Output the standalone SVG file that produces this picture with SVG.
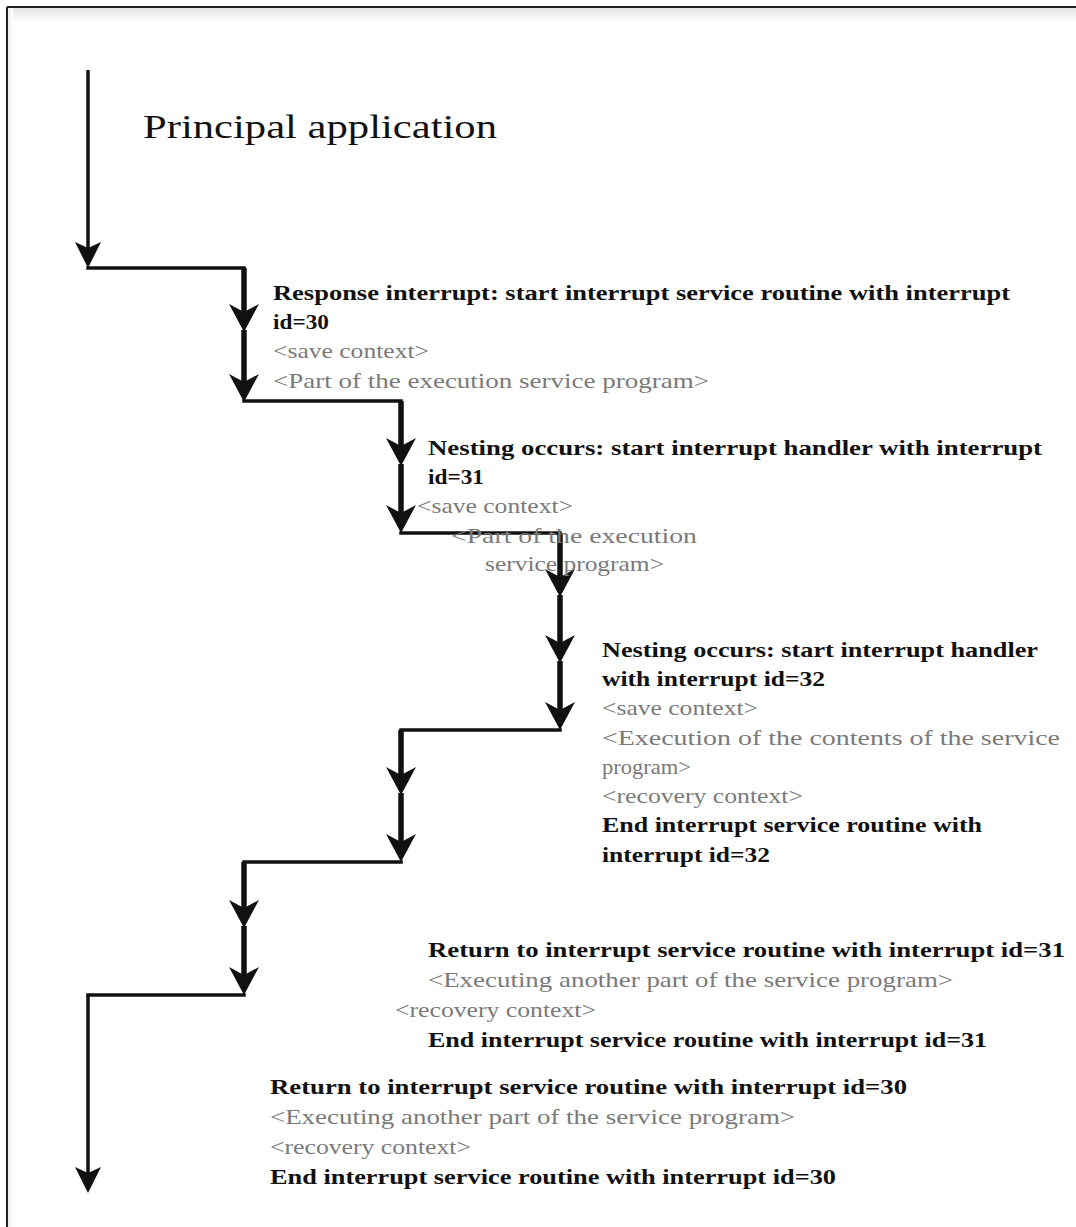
<svg xmlns="http://www.w3.org/2000/svg" xmlns:xlink="http://www.w3.org/1999/xlink" width="1076" height="1227" viewBox="0 0 1076 1227">
  <style>
    .t { font-family: "Liberation Serif", "DejaVu Serif", serif; }
    .title { font-size: 34px; fill: #111; }
    .b { font-size: 22px; font-weight: bold; fill: #111; }
    .g { font-size: 22px; fill: #7a7a7a; }
    .thin { stroke: #111; stroke-width: 3.5; fill: none; }
    .thick { stroke: #111; stroke-width: 5.5; fill: none; }
    .hz { stroke: #111; stroke-width: 3.5; fill: none; stroke-linecap: square; }
  </style>
  <defs>
    <linearGradient id="topShade" x1="0" y1="0" x2="0" y2="1">
      <stop offset="0" stop-color="#e4e4e4"/>
      <stop offset="1" stop-color="#ffffff"/>
    </linearGradient>
    <linearGradient id="leftShade" x1="0" y1="0" x2="1" y2="0">
      <stop offset="0" stop-color="#ececec"/>
      <stop offset="1" stop-color="#ffffff"/>
    </linearGradient>
    <!-- arrowheads, tip at origin, pointing down -->
    <path id="headThin" d="M0,0 L-13,-26 L0,-20 L13,-26 Z" fill="#111"/>
    <path id="headThick" d="M0,0 L-15,-28 L0,-20 L15,-28 Z" fill="#111"/>
  </defs>

  <rect width="1076" height="1227" fill="#fff"/>

  <!-- frame: top and left rule with soft shadow -->
  <g id="frame">
    <rect x="8" y="8" width="1068" height="14" fill="url(#topShade)"/>
    <rect x="8" y="8" width="5" height="1219" fill="url(#leftShade)"/>
    <line x1="7" y1="7" x2="1076" y2="7" stroke="#222" stroke-width="2"/>
    <line x1="7" y1="7" x2="7" y2="1227" stroke="#222" stroke-width="2"/>
  </g>

  <!-- flow of control: main program, nested ISRs and returns -->
  <g id="connectors">
    <!-- main program -->
    <line class="thin" x1="88" y1="70" x2="88" y2="250"/>
    <use xlink:href="#headThin" x="88" y="268"/>
    <line class="hz" x1="88" y1="268" x2="244" y2="268"/>

    <!-- ISR 30 entry -->
    <line class="thick" x1="244" y1="268" x2="244" y2="316"/>
    <use xlink:href="#headThick" x="244" y="332"/>
    <line class="thick" x1="244" y1="330" x2="244" y2="386"/>
    <use xlink:href="#headThick" x="244" y="402"/>
    <line class="hz" x1="244" y1="401" x2="401" y2="401"/>

    <!-- ISR 31 entry -->
    <line class="thick" x1="401" y1="401" x2="401" y2="450"/>
    <use xlink:href="#headThick" x="401" y="466"/>
    <line class="thick" x1="401" y1="464" x2="401" y2="517"/>
    <use xlink:href="#headThick" x="401" y="533"/>
    <line class="hz" x1="401" y1="533" x2="560" y2="533"/>

    <!-- ISR 32 -->
    <line class="thick" x1="560" y1="533" x2="560" y2="581"/>
    <use xlink:href="#headThick" x="560" y="597"/>
    <line class="thick" x1="560" y1="595" x2="560" y2="647"/>
    <use xlink:href="#headThick" x="560" y="663"/>
    <line class="thick" x1="560" y1="661" x2="560" y2="714"/>
    <use xlink:href="#headThick" x="560" y="730"/>
    <line class="hz" x1="560" y1="730" x2="401" y2="730"/>

    <!-- back in ISR 31 -->
    <line class="thick" x1="401" y1="730" x2="401" y2="779"/>
    <use xlink:href="#headThick" x="401" y="795"/>
    <line class="thick" x1="401" y1="793" x2="401" y2="846"/>
    <use xlink:href="#headThick" x="401" y="862"/>
    <line class="hz" x1="401" y1="862" x2="244" y2="862"/>

    <!-- back in ISR 30 -->
    <line class="thick" x1="244" y1="862" x2="244" y2="912"/>
    <use xlink:href="#headThick" x="244" y="928"/>
    <line class="thick" x1="244" y1="926" x2="244" y2="979"/>
    <use xlink:href="#headThick" x="244" y="995"/>
    <line class="hz" x1="244" y1="995" x2="88" y2="995"/>

    <!-- main program resumes -->
    <line class="thin" x1="88" y1="995" x2="88" y2="1175"/>
    <use xlink:href="#headThin" x="88" y="1193"/>
  </g>

  <g id="main-label">
    <text class="t title" x="143" y="138" textLength="354" lengthAdjust="spacingAndGlyphs">Principal application</text>
  </g>

  <g id="isr30-entry">
    <text class="t b" x="273" y="300" textLength="737" lengthAdjust="spacingAndGlyphs">Response interrupt: start interrupt service routine with interrupt</text>
    <text class="t b" x="273" y="329" textLength="56" lengthAdjust="spacingAndGlyphs">id=30</text>
    <text class="t g" x="273" y="358" textLength="156" lengthAdjust="spacingAndGlyphs">&lt;save context&gt;</text>
    <text class="t g" x="273" y="388" textLength="436" lengthAdjust="spacingAndGlyphs">&lt;Part of the execution service program&gt;</text>
  </g>

  <g id="isr31-entry">
    <text class="t b" x="428" y="455" textLength="614" lengthAdjust="spacingAndGlyphs">Nesting occurs: start interrupt handler with interrupt</text>
    <text class="t b" x="428" y="484" textLength="56" lengthAdjust="spacingAndGlyphs">id=31</text>
    <text class="t g" x="417" y="513" textLength="156" lengthAdjust="spacingAndGlyphs">&lt;save context&gt;</text>
    <text class="t g" x="451" y="543" textLength="246" lengthAdjust="spacingAndGlyphs">&lt;Part of the execution</text>
    <text class="t g" x="485" y="571" textLength="179" lengthAdjust="spacingAndGlyphs">service program&gt;</text>
  </g>

  <g id="isr32">
    <text class="t b" x="602" y="657" textLength="436" lengthAdjust="spacingAndGlyphs">Nesting occurs: start interrupt handler</text>
    <text class="t b" x="602" y="686" textLength="223" lengthAdjust="spacingAndGlyphs">with interrupt id=32</text>
    <text class="t g" x="602" y="715" textLength="156" lengthAdjust="spacingAndGlyphs">&lt;save context&gt;</text>
    <text class="t g" x="602" y="745" textLength="458" lengthAdjust="spacingAndGlyphs">&lt;Execution of the contents of the service</text>
    <text class="t g" x="602" y="774" textLength="89" lengthAdjust="spacingAndGlyphs">program&gt;</text>
    <text class="t g" x="602" y="803" textLength="201" lengthAdjust="spacingAndGlyphs">&lt;recovery context&gt;</text>
    <text class="t b" x="602" y="832" textLength="380" lengthAdjust="spacingAndGlyphs">End interrupt service routine with</text>
    <text class="t b" x="602" y="862" textLength="168" lengthAdjust="spacingAndGlyphs">interrupt id=32</text>
  </g>

  <g id="isr31-return">
    <text class="t b" x="428" y="957" textLength="637" lengthAdjust="spacingAndGlyphs">Return to interrupt service routine with interrupt id=31</text>
    <text class="t g" x="428" y="987" textLength="525" lengthAdjust="spacingAndGlyphs">&lt;Executing another part of the service program&gt;</text>
    <text class="t g" x="395" y="1017" textLength="201" lengthAdjust="spacingAndGlyphs">&lt;recovery context&gt;</text>
    <text class="t b" x="428" y="1047" textLength="559" lengthAdjust="spacingAndGlyphs">End interrupt service routine with interrupt id=31</text>
  </g>

  <g id="isr30-return">
    <text class="t b" x="270" y="1094" textLength="637" lengthAdjust="spacingAndGlyphs">Return to interrupt service routine with interrupt id=30</text>
    <text class="t g" x="270" y="1124" textLength="525" lengthAdjust="spacingAndGlyphs">&lt;Executing another part of the service program&gt;</text>
    <text class="t g" x="270" y="1154" textLength="201" lengthAdjust="spacingAndGlyphs">&lt;recovery context&gt;</text>
    <text class="t b" x="270" y="1184" textLength="566" lengthAdjust="spacingAndGlyphs">End interrupt service routine with interrupt id=30</text>
  </g>
</svg>
